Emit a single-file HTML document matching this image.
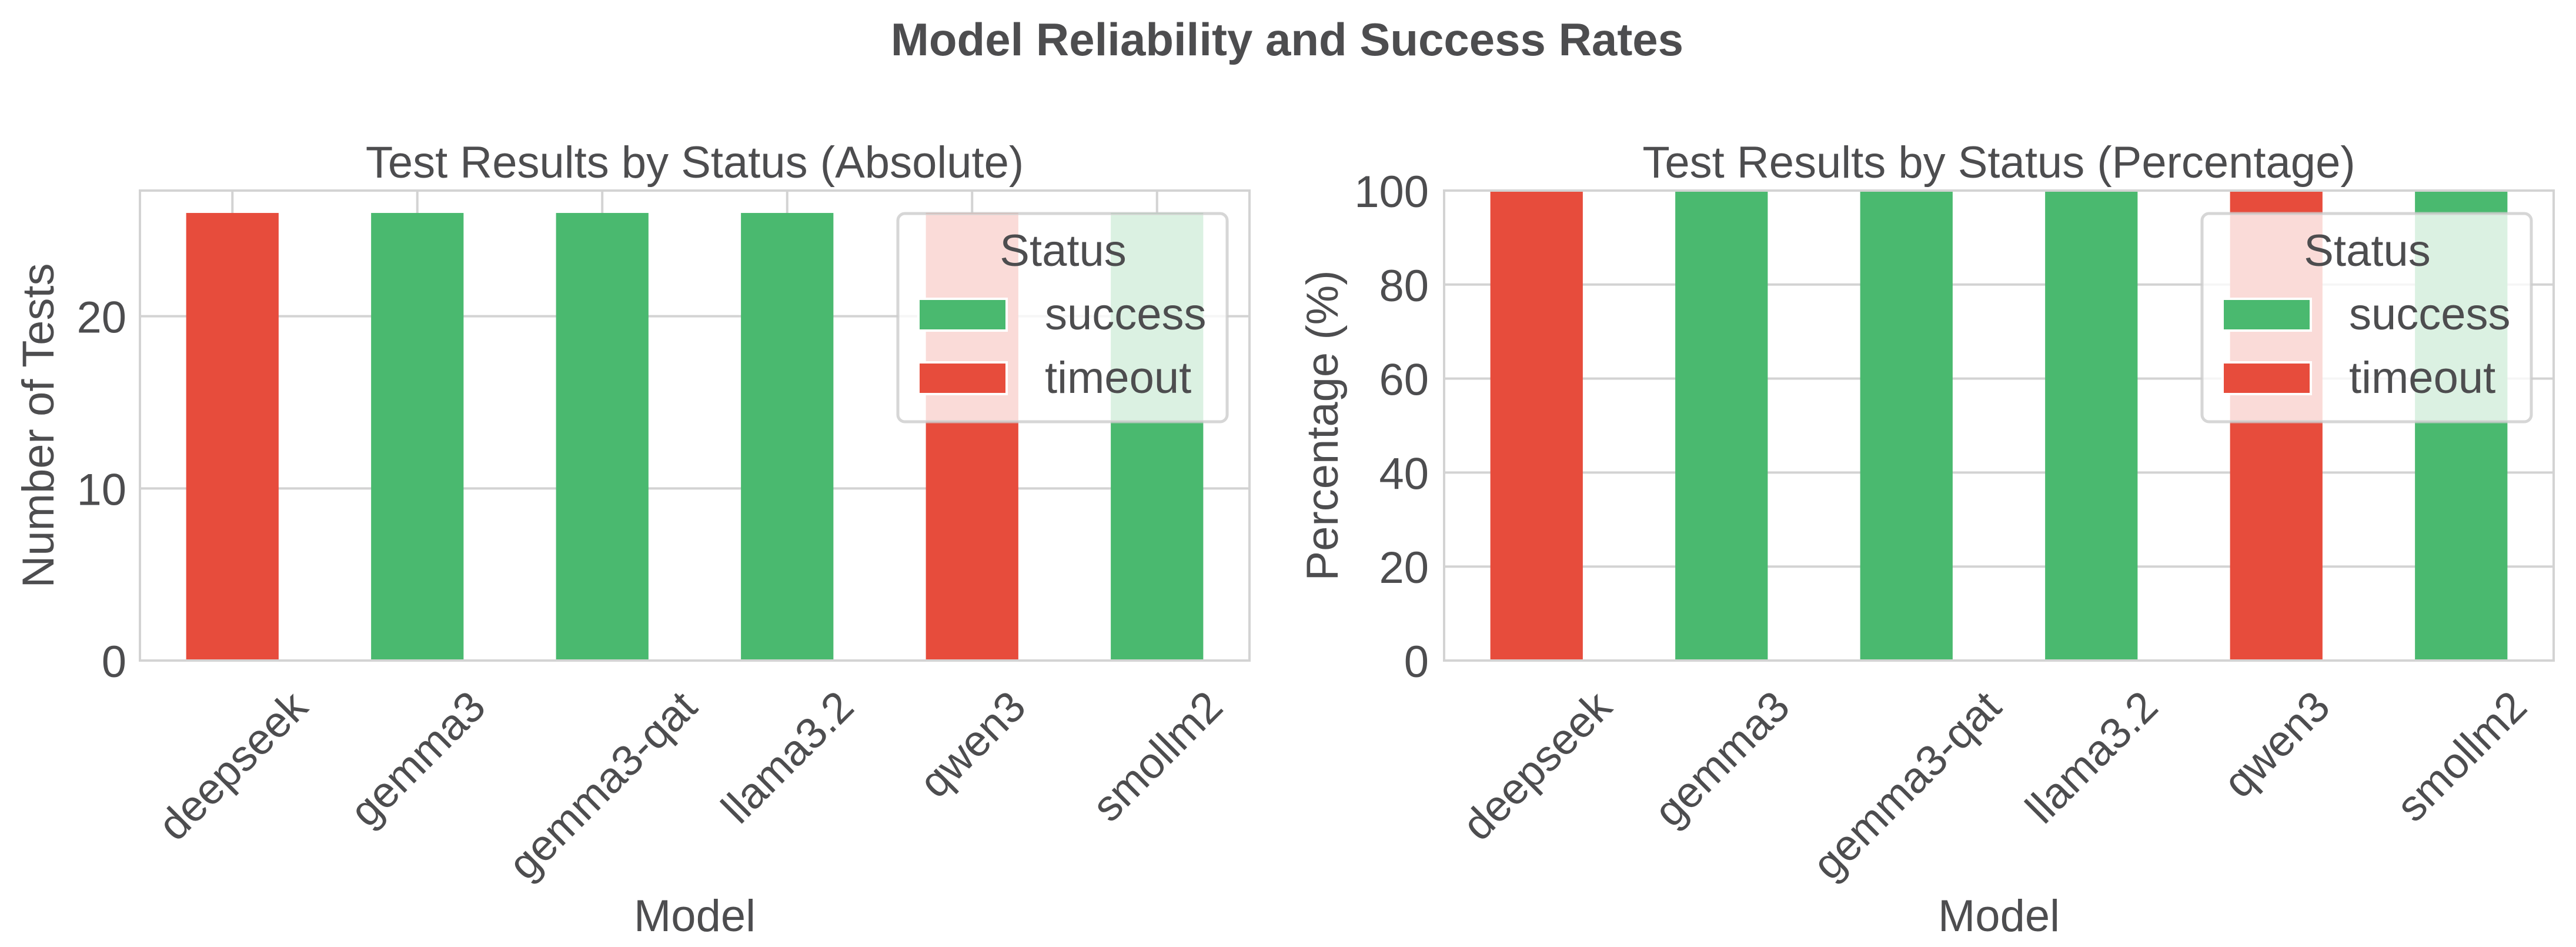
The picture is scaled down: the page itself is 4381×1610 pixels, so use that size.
<!DOCTYPE html>
<html><head><meta charset="utf-8"><style>
html,body{margin:0;padding:0;background:#fff;}
svg{display:block;font-family:"Liberation Sans",Arial,sans-serif;}
</style></head><body>
<svg id="fig" width="4381" height="1610" viewBox="0 0 4381 1610" xmlns="http://www.w3.org/2000/svg">
<rect width="4381" height="1610" fill="#fff"/>
<text x="2189" y="94" text-anchor="middle" font-size="78" font-weight="bold" fill="#4d4d4f">Model Reliability and Success Rates</text>
<g id="plots"></g>
</svg>
<script>
const categories = ["deepseek","gemma3","gemma3-qat","llama3.2","qwen3","smollm2"];
const successAbs = [0,26,26,26,0,26];
const timeoutAbs = [26,0,0,0,26,0];
const successPct = [0,100,100,100,0,100];
const timeoutPct = [100,0,0,0,100,0];
const absTicks = [0,10,20];
const pctTicks = [0,20,40,60,80,100];
const seriesNames = ["success","timeout"];

const NS="http://www.w3.org/2000/svg";
const TXT="#4d4d4f", GRID="#d3d3d3", GREEN="#4ab96f", RED="#e74c3c";
const root=document.getElementById('plots');
function mk(tag,attrs,parent){const e=document.createElementNS(NS,tag);for(const k in attrs)e.setAttribute(k,attrs[k]);(parent||root).appendChild(e);return e;}

function drawPlot(prefix,left,right,top,bottom,ymax,ticks,succ,tout,title,ylabel,ylabX,tickX){
  const g=mk('g',{});
  
  
  const n=categories.length, step=(right-left)/n;
  const xc=i=>left+step*(i+0.5);
  const y=v=>bottom-(v/ymax)*(bottom-top);
  // grid
  ticks.forEach(t=>{
    const l=mk('line',{x1:left,x2:right,y1:y(t),y2:y(t),stroke:GRID,'stroke-width':4},g);
    
    
    const tl=mk('text',{x:tickX,y:y(t)+28,'text-anchor':'end','font-size':76,fill:TXT},g);
    
    
    tl.textContent=t;
  });
  categories.forEach((c,i)=>{
    const l=mk('line',{x1:xc(i),x2:xc(i),y1:top,y2:bottom,stroke:GRID,'stroke-width':4},g);
    
    
  });
  const bw=step*0.5;
  categories.forEach((c,i)=>{
    const s=succ[i], t=tout[i];
    if(s>0){const r=mk('rect',{x:xc(i)-bw/2,y:y(s),width:bw,height:y(0)-y(s),fill:GREEN},g);
      
      }
    if(t>0){const r=mk('rect',{x:xc(i)-bw/2,y:y(s+t),width:bw,height:y(s)-y(s+t),fill:RED},g);
      
      }
  });
  const fr=mk('rect',{x:left,y:top,width:right-left,height:bottom-top,fill:'none',stroke:GRID,'stroke-width':4},g);
  
  
  // x tick labels
  categories.forEach((c,i)=>{
    const t=mk('text',{x:0,y:0,'text-anchor':'middle','font-size':74,fill:TXT},g);
    
    
    t.textContent=c;
    const w=t.getComputedTextLength();
    const h=74*0.95;
    const cy=bottom+40+(w+h)*0.7071/2;
    t.setAttribute('transform','translate('+xc(i)+','+cy+') rotate(-45) translate(0,'+(74*0.35)+')');
  });
  const ti=mk('text',{x:(left+right)/2,y:302,'text-anchor':'middle','font-size':76,fill:TXT},g);
  
  
  ti.textContent=title;
  const xl=mk('text',{x:(left+right)/2,y:1583,'text-anchor':'middle','font-size':76,fill:TXT},g);
  
  
  xl.textContent='Model';
  const yl=mk('text',{x:0,y:0,'text-anchor':'middle','font-size':76,fill:TXT,transform:'translate('+ylabX+','+((top+bottom)/2)+') rotate(-90)'},g);
  
  
  yl.textContent=ylabel;
  // legend
  const bx=right-38-560, by=363;
  const lg=mk('g',{},g);
  
  
  mk('rect',{x:bx,y:by,width:560,height:354,rx:12,fill:'#fff','fill-opacity':0.8,stroke:'#cccccc','stroke-opacity':0.8,'stroke-width':5},lg);
  const lt=mk('text',{x:bx+281,y:452,'text-anchor':'middle','font-size':76,fill:TXT},lg);
  
  
  lt.textContent='Status';
  seriesNames.forEach((s,k)=>{
    const py=508+k*108;
    const p=mk('rect',{x:bx+35,y:py,width:150,height:54,fill:k===0?GREEN:RED,stroke:'#fff','stroke-width':4},lg);
    
    
    const tx=mk('text',{x:bx+250,y:560+k*108,'font-size':76,fill:TXT},lg);
    
    
    tx.textContent=s;
  });
}
drawPlot('absolute',238,2125,324,1123,27.3,absTicks,successAbs,timeoutAbs,'Test Results by Status (Absolute)','Number of Tests',91,215);
drawPlot('percentage',2456,4343,324,1123,100,pctTicks,successPct,timeoutPct,'Test Results by Status (Percentage)','Percentage (%)',2275,2430);
</script>
</body></html>
